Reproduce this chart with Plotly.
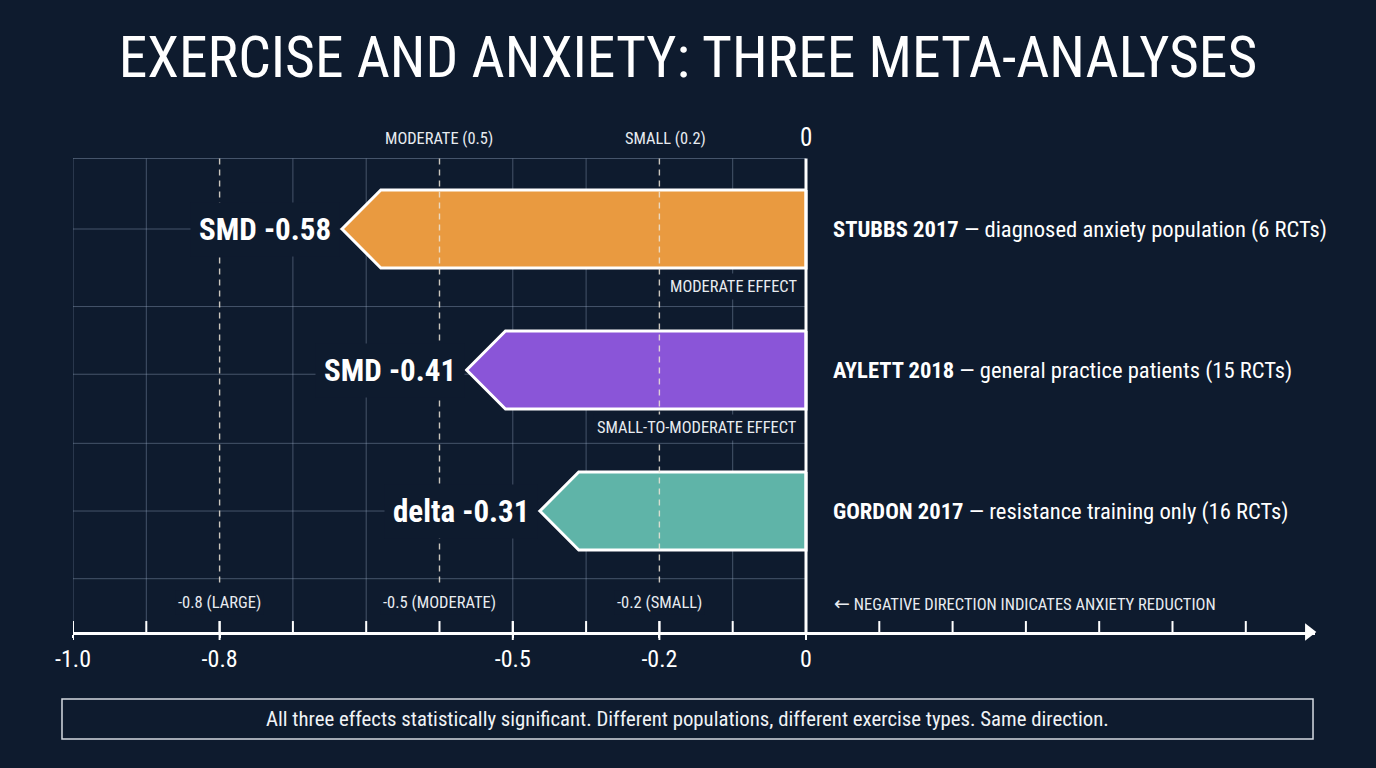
import plotly.graph_objects as go

# ---------------- data ----------------
studies = ["STUBBS 2017", "AYLETT 2018", "GORDON 2017"]
descriptions = ["diagnosed anxiety population (6 RCTs)",
                "general practice patients (15 RCTs)",
                "resistance training only (16 RCTs)"]
effects = [-0.58, -0.41, -0.31]
effect_labels = ["SMD -0.58", "SMD -0.41", "delta -0.31"]
effect_notes = ["MODERATE EFFECT", "SMALL-TO-MODERATE EFFECT", ""]
bar_colors = ["#E99A40", "#8A55D8", "#5FB4A8"]

thresholds = [-0.8, -0.5, -0.2]
threshold_bottom_labels = ["-0.8 (LARGE)", "-0.5 (MODERATE)", "-0.2 (SMALL)"]
threshold_top_x = [-0.5, -0.2]
threshold_top_labels = ["MODERATE (0.5)", "SMALL (0.2)"]

grid_x = [-1.0, -0.9, -0.8, -0.7, -0.6, -0.5, -0.4, -0.3, -0.2, -0.1]
grid_y = [-0.5, 0, 0.55, 1.03, 1.52, 2, 2.48]
axis_ticks = [-1.0, -0.9, -0.8, -0.7, -0.6, -0.5, -0.4, -0.3, -0.2, -0.1,
              0.0, 0.1, 0.2, 0.3, 0.4, 0.5, 0.6]
tick_vals = [-1.0, -0.8, -0.4, -0.2, 0.0]
tick_text = ["-1.0", "-0.8", "-0.5", "-0.2", "0"]

title = "EXERCISE AND ANXIETY: THREE META-ANALYSES"
footer = ("All three effects statistically significant. Different populations, "
          "different exercise types. Same direction.")
direction_note = ("<span style='font-family:DejaVu Sans;font-size:19px'>\u2190</span> "
                  "NEGATIVE DIRECTION INDICATES ANXIETY REDUCTION")

# ---------------- style ----------------
BG = "#0E1B2E"
FONT = "Liberation Sans Narrow, Arial Narrow, Roboto Condensed, Roboto, sans-serif"
GRID = "rgba(160,180,205,0.38)"
DASH = "rgba(236,228,214,0.85)"
SMALLTXT = "#E8ECF1"
X_MIN, X_MAX = -1.0, 0.6944
Y_TOP, Y_BOTTOM = -0.844, 2.858
BAR_H = 0.553
TIP = 0.053
TOP_SHIFTS = [-1, 6]

fig = go.Figure()

shapes = []
for y in grid_y:
    shapes.append(dict(type="line", xref="x", yref="y", x0=-1.0, x1=0, y0=y, y1=y,
                       line=dict(color=GRID, width=1), layer="below"))
for x in grid_x:
    if x in thresholds:
        continue
    shapes.append(dict(type="line", xref="x", yref="y", x0=x, x1=x, y0=-0.5, y1=Y_BOTTOM,
                       line=dict(color=GRID, width=1), layer="below"))
for x in thresholds:
    shapes.append(dict(type="line", xref="x", yref="y", x0=x, x1=x, y0=-0.5, y1=2.525,
                       line=dict(color=DASH, width=1.4, dash="6px,5px"), layer="above"))
shapes.append(dict(type="line", xref="x", yref="y", x0=0, x1=0, y0=-0.5, y1=Y_BOTTOM,
                   line=dict(color="white", width=3), layer="above"))
for x in axis_ticks:
    shapes.append(dict(type="line", xref="x", yref="paper", x0=x, x1=x, y0=0, y1=0.021,
                       line=dict(color="white", width=2), layer="above"))
for x in tick_vals:
    shapes.append(dict(type="line", xref="x", yref="paper", x0=x, x1=x, y0=-0.0153, y1=0.021,
                       line=dict(color="white", width=2), layer="above"))
shapes.append(dict(type="rect", xref="paper", yref="paper", x0=-0.00886, x1=0.9984,
                   y0=-0.205, y1=-0.1284, line=dict(color="rgba(235,240,245,0.9)", width=1.5)))

for i, (v, c) in enumerate(zip(effects, bar_colors)):
    top, bot = i - BAR_H / 2, i + BAR_H / 2
    xs = [0, v, v - TIP, v, 0, 0]
    ys = [top, top, i, bot, bot, top]
    fig.add_trace(go.Scatter(x=xs, y=ys, mode="lines", fill="toself", fillcolor=c,
                             line=dict(color="white", width=3), hoverinfo="skip",
                             showlegend=False))

fig.add_trace(go.Scatter(x=[0.686], y=[Y_BOTTOM], mode="markers",
                         marker=dict(symbol="triangle-right", size=15, color="white"),
                         cliponaxis=False, showlegend=False, hoverinfo="skip"))

ann = []
for i, (v, lab) in enumerate(zip(effects, effect_labels)):
    ann.append(dict(x=v - TIP, y=i, xref="x", yref="y", text=f"<b>{lab}</b>", showarrow=False,
                    xanchor="right", yanchor="middle", xshift=-2, bgcolor=BG, borderpad=8,
                    font=dict(family=FONT, size=31, color="white")))
for i, note in enumerate(effect_notes):
    if note:
        ann.append(dict(x=0, y=i + 0.41, xref="x", yref="y", text=note, showarrow=False,
                        xanchor="right", yanchor="middle", xshift=-5, bgcolor=BG, borderpad=3,
                        font=dict(family=FONT, size=16.4, color=SMALLTXT)))
for i, (s, d) in enumerate(zip(studies, descriptions)):
    ann.append(dict(x=0.034, y=i, xref="x", yref="y", text=f"<b>{s}</b> \u2014 {d}",
                    showarrow=False, xanchor="left", yanchor="middle",
                    font=dict(family=FONT, size=22.6, color="white")))
for x, lab in zip(thresholds, threshold_bottom_labels):
    ann.append(dict(x=x, y=2.652, xref="x", yref="y", text=lab, showarrow=False,
                    xanchor="center", yanchor="middle", bgcolor=BG, borderpad=2,
                    font=dict(family=FONT, size=16.5, color=SMALLTXT)))
ann.append(dict(x=0.0355, y=2.652, xref="x", yref="y", text=direction_note, showarrow=False,
                xanchor="left", yanchor="middle",
                font=dict(family=FONT, size=16.5, color=SMALLTXT)))
for x, lab, sh in zip(threshold_top_x, threshold_top_labels, TOP_SHIFTS):
    ann.append(dict(x=x, y=-0.645, xref="x", yref="y", text=lab, showarrow=False,
                    xanchor="center", yanchor="middle", xshift=sh,
                    font=dict(family=FONT, size=16.4, color=SMALLTXT)))
ann.append(dict(x=0, y=-0.652, xref="x", yref="y", text="0", showarrow=False,
                xanchor="center", yanchor="middle",
                font=dict(family=FONT, size=25, color="white")))
ann.append(dict(x=0.4948, y=-0.1667, xref="paper", yref="paper", text=footer, showarrow=False,
                xanchor="center", yanchor="middle",
                font=dict(family=FONT, size=20.8, color="#F0F3F6")))

fig.update_layout(
    width=1376, height=768,
    paper_bgcolor=BG, plot_bgcolor=BG,
    margin=dict(l=73, r=61, t=110, b=136),
    title=dict(text=title, x=0.5, xanchor="center", y=0.926, yanchor="middle",
               font=dict(family=FONT, size=57.5, color="white")),
    shapes=shapes, annotations=ann, showlegend=False,
    xaxis=dict(range=[X_MIN, X_MAX], showgrid=False, zeroline=False,
               showline=True, linecolor="white", linewidth=3,
               tickvals=tick_vals, ticktext=tick_text, ticks="outside", ticklen=3,
               tickwidth=2, tickcolor="white",
               tickfont=dict(family=FONT, size=24, color="white")),
    yaxis=dict(range=[Y_BOTTOM, Y_TOP], showgrid=False, zeroline=False,
               showticklabels=False, showline=False),
)

fig.write_html("out.html")
